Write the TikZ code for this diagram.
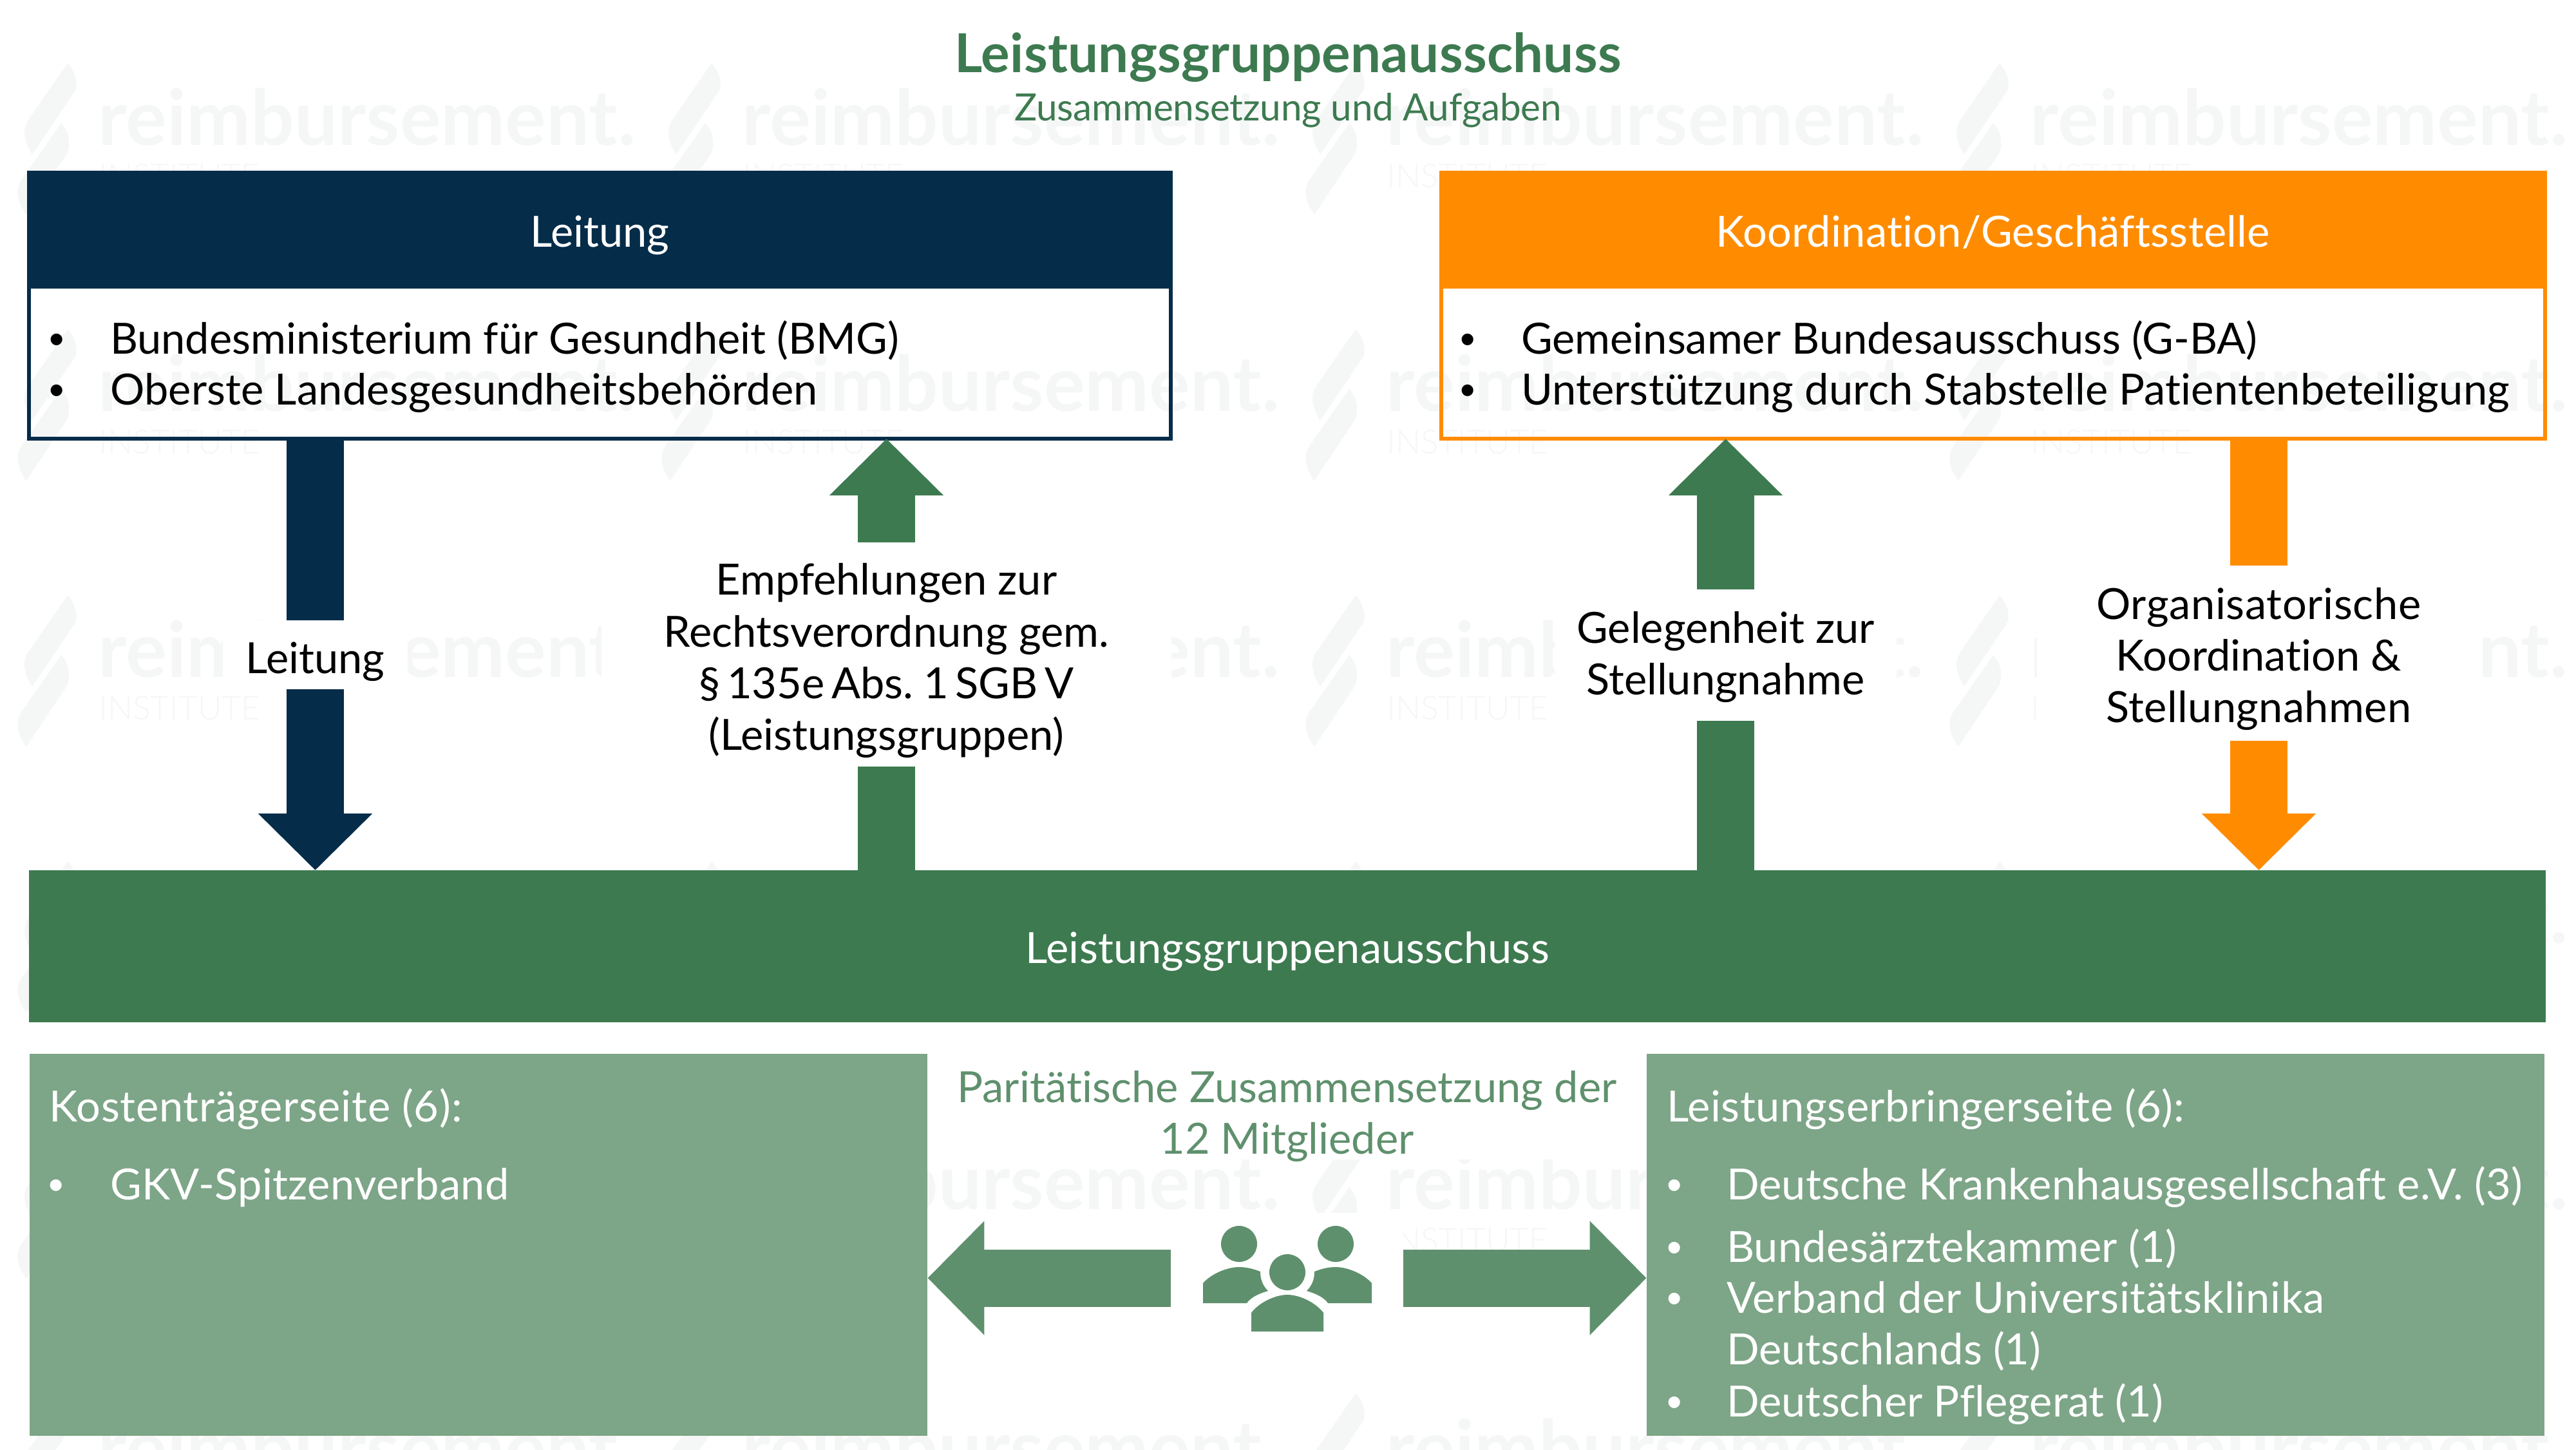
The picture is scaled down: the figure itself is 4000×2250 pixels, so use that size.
\documentclass[tikz,border=0pt]{standalone}
\usepackage{fontspec}
\setmainfont{Lato}[Ligatures=NoCommon]
\newfontfamily\latolight{Lato Light}
\newfontfamily\bulletfont{Liberation Sans}
\usetikzlibrary{arrows.meta}
\definecolor{navy}{HTML}{052C49}
\definecolor{orng}{HTML}{FF8C00}
\definecolor{grn}{HTML}{3D7A50}
\definecolor{midg}{HTML}{5F906D}
\definecolor{lightg}{HTML}{7DA587}
\definecolor{wm}{HTML}{F5F6F6}
\newcommand{\fA}{\fontsize{18.97}{22.76}\selectfont}
\newcommand{\fT}{\fontsize{23.71}{28.45}\selectfont\bfseries}
\newcommand{\fS}{\fontsize{16.6}{19.9}\selectfont}
\newcommand{\lsp}[1]{\addfontfeature{LetterSpace=#1}}
\newcommand{\bul}{{\bulletfont •}}
\tikzset{
  lab/.style={fill=white,inner sep=0pt,outer sep=0pt,align=center,font=\fA,text=black},
  head/.style={inner sep=0pt,outer sep=0pt,text=white,font=\fA,minimum height=1.83cm},
  bodybox/.style={draw,line width=0.06cm,inner sep=0pt,minimum height=4.13cm},
  sidebox/.style={fill=lightg,inner sep=0pt,outer sep=0pt,minimum height=5.93cm},
  txt/.style={anchor=base west,inner sep=0pt,outer sep=0pt,font=\fA},
  shaft/.style={line width=0.89cm},
  tip/.style={shaft,-{Triangle[length=0.88cm,width=1.72cm]}},
}
\begin{document}
\begin{tikzpicture}[x=0.01cm,y=-0.01cm]
\useasboundingbox (0,0) rectangle (4000,2250);
% watermark
\begin{scope}
\clip (0,0) rectangle (4000,2250);
\foreach \c in {0,1,2,3}{
  \foreach \r in {0,...,5}{
    \pgfmathsetmacro{\bx}{\c*1000}
    \pgfmathsetmacro{\by}{223+\r*413}
    \begin{scope}[shift={(\bx,\by-1049)}]
      \fill[wm] (105,924) .. controls (115,935) and (121,950) .. (118,965) -- (50,1066) .. controls (40,1050) and (32,1030) .. (44,1012) -- cycle;
      \fill[wm] (95,1017) .. controls (106,1028) and (110,1045) .. (105,1063) -- (41,1159) .. controls (30,1145) and (22,1125) .. (32,1107) -- cycle;
      \node[anchor=base west,inner sep=0pt,text=wm,font=\fontsize{33.9}{40}\selectfont\bfseries] (wmA\c\r) at (152,1051) {reimbursement.};
      \node[anchor=base west,inner sep=0pt,text=wm,font=\fontsize{14.7}{18}\selectfont\latolight] (wmB\c\r) at (153,1117) {INSTITUTE};
    \end{scope}
  }
}
\end{scope}
% title
\node[anchor=base,inner sep=0pt,text=grn,font=\fT\lsp{0.4}] (title) at (2000,112) {Leistungsgruppenausschuss};
\node[anchor=base,inner sep=0pt,text=grn,font=\fS\lsp{-0.3}] (subtitle) at (2000,187) {Zusammensetzung und Aufgaben};
% top boxes
\node[bodybox,draw=navy,minimum width=17.71cm] (leitBody) at (931.5,474.5) {};
\node[head,fill=navy,minimum width=17.77cm,text height=1.18cm,text depth=0.65cm] (leitHead) at (931.5,356.5) {Leitung};
\node[bodybox,draw=orng,minimum width=17.13cm] (koordBody) at (3094.5,474.5) {};
\node[head,fill=orng,minimum width=17.19cm,text height=1.18cm,text depth=0.65cm,font=\fA\lsp{0.4}] (koordHead) at (3094.5,356.5) {Koordination/Geschäftsstelle};
\node[txt,anchor=base] (b1) at (88,549) {\bul};
\node[txt] (t1) at (171,549) {Bundesministerium für Gesundheit (BMG)};
\node[txt,anchor=base] (b2) at (88,628) {\bul};
\node[txt,font=\fA\lsp{0.34}] (t2) at (171,628) {Oberste Landesgesundheitsbehörden};
\node[txt,anchor=base] (b3) at (2279,549) {\bul};
\node[txt] (t3) at (2362,549) {Gemeinsamer Bundesausschuss (G-BA)};
\node[txt,anchor=base] (b4) at (2279,628) {\bul};
\node[txt,font=\fA\lsp{0.3}] (t4) at (2362,628) {Unterstützung durch Stabstelle Patientenbeteiligung};
% bar
\node[head,fill=grn,minimum width=39.06cm,minimum height=2.36cm,text height=1.44cm,text depth=0.92cm,font=\fA\lsp{0.25}] (bar) at (1999,1469) {Leistungsgruppenausschuss};
% labels
\node[lab,minimum width=2.86cm,text height=0.82cm,text depth=0.25cm] (labL) at (489.5,1016.5) {Leitung};
\node[lab,minimum width=8.84cm,text height=3.22cm,text depth=0.26cm] (labE) at (1376.5,1016) {Empfehlungen zur\\{\lsp{0.25}Rechtsverordnung gem.}\\{\spaceskip=0.16em § 135e Abs. 1 SGB V}\\(Leistungsgruppen)};
\node[lab,minimum width=5.31cm,text height=1.625cm,text depth=0.41cm] (labG) at (2679.5,1017.25) {Gelegenheit zur\\Stellungnahme};
\node[lab,minimum width=6.89cm,text height=2.43cm,text depth=0.29cm] (labO) at (3507.5,1014) {{\lsp{1}Organisatorische}\\Koordination \&\\{\lsp{0.5}Stellungnahmen}};
% connectors
\draw[shaft,navy] (labL.north |- leitBody.south) -- (labL.north);
\draw[tip,navy] (labL.south) -- (labL.south |- bar.north);
\draw[shaft,grn] (labE.south |- bar.north) -- (labE.south);
\draw[tip,grn] (labE.north) -- ([yshift=0.03cm]labE.north |- leitBody.south);
\draw[shaft,grn] (labG.south |- bar.north) -- (labG.south);
\draw[tip,grn] (labG.north) -- ([yshift=0.03cm]labG.north |- koordBody.south);
\draw[shaft,orng] (labO.north |- koordBody.south) -- (labO.north);
\draw[tip,orng] (labO.south) -- (labO.south |- bar.north);
% lower boxes
\node[sidebox,minimum width=13.94cm] (kosten) at (743,1932.5) {};
\node[sidebox,minimum width=13.94cm] (erbring) at (3254,1932.5) {};
\node[lab,text=midg,minimum width=11.17cm,text height=1.55cm,text depth=0.09cm] (parit) at (1998.5,1718) {{\lsp{0.2}Paritätische Zusammensetzung der}\\12 Mitglieder};
\node[txt,text=white,font=\fA\lsp{1.2}] (k0) at (76,1741) {Kostenträgerseite (6):};
\node[txt,text=white,anchor=base] (kb) at (87,1862) {\bul};
\node[txt,text=white,font=\fA\lsp{0.6}] (k1) at (171,1862) {GKV-Spitzenverband};
\node[txt,text=white,font=\fA\lsp{0.85}] (e0) at (2588,1741) {Leistungserbringerseite (6):};
\node[txt,text=white,anchor=base] (eb1) at (2600,1862) {\bul};
\node[txt,text=white,font=\fA\lsp{0.28}] (e1) at (2681,1862) {Deutsche Krankenhausgesellschaft e.V. (3)};
\node[txt,text=white,anchor=base] (eb2) at (2600,1959) {\bul};
\node[txt,text=white,font=\fA\lsp{0.55}] (e2) at (2681,1959) {Bundesärztekammer (1)};
\node[txt,text=white,anchor=base] (eb3) at (2600,2038) {\bul};
\node[txt,text=white,font=\fA\lsp{1}] (e3) at (2681,2038) {Verband der Universitätsklinika};
\node[txt,text=white] (e4) at (2681,2118) {Deutschlands (1)};
\node[txt,text=white,anchor=base] (eb5) at (2600,2199) {\bul};
\node[txt,text=white,font=\fA\lsp{0.1}] (e5) at (2681,2199) {Deutscher Pflegerat (1)};
% icon
\node[fill=white,inner sep=0pt,outer sep=0pt,minimum width=3.61cm,minimum height=2.02cm] (icon) at (1998.5,1984) {};
\draw[tip,midg] (icon.west) -- (icon.west -| kosten.east);
\draw[tip,midg] (icon.east) -- (icon.east -| erbring.west);
\fill[midg] (1924,1931) circle[radius=28];
\fill[midg] (2074,1931) circle[radius=28];
\fill[midg] (1999,1975) circle[radius=28];
\fill[midg] (1868,2023) -- (1868,1992) .. controls (1880,1978) and (1905,1967) .. (1924,1967) .. controls (1936,1967) and (1947,1970) .. (1957,1974) .. controls (1957,1985) and (1960,1995) .. (1969,2004) .. controls (1955,2008) and (1942,2014) .. (1936,2023) -- cycle;
\fill[midg] (2130,2023) -- (2130,1992) .. controls (2118,1978) and (2093,1967) .. (2074,1967) .. controls (2062,1967) and (2051,1970) .. (2041,1974) .. controls (2041,1985) and (2038,1995) .. (2029,2004) .. controls (2043,2008) and (2056,2014) .. (2062,2023) -- cycle;
\fill[midg] (1943,2067) -- (1943,2038) .. controls (1955,2022) and (1980,2010) .. (1999,2010) .. controls (2018,2010) and (2043,2022) .. (2055,2038) -- (2055,2067) -- cycle;
\end{tikzpicture}
\end{document}
